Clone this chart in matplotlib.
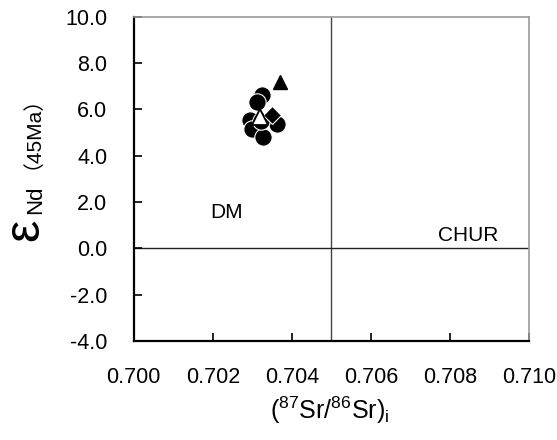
"""Sr-Nd isotope diagram"""
import numpy as np
import matplotlib
matplotlib.use("Agg")
import matplotlib.pyplot as plt

plt.rcParams['font.family'] = ['Liberation Sans', 'Noto Sans CJK SC', 'DejaVu Sans']
plt.rcParams['mathtext.fontset'] = 'custom'
plt.rcParams['mathtext.rm'] = 'Liberation Sans'
plt.rcParams['mathtext.it'] = 'Liberation Sans'

# (87Sr/86Sr)i and eNd(t) for each sample group
circle_sr = [0.70324, 0.70311, 0.70294, 0.70299, 0.70326, 0.70362, 0.70322]
circle_nd = [6.61, 6.32, 5.53, 5.17, 4.80, 5.38, 5.50]
open_tri_sr = [0.70320]
open_tri_nd = [5.67]
diamond_sr = [0.70349]
diamond_nd = [5.74]
solid_tri_sr = [0.70369]
solid_tri_nd = [7.18]

x_ticks = [0.700, 0.702, 0.704, 0.706, 0.708, 0.710]
y_ticks = [-4.0, -2.0, 0.0, 2.0, 4.0, 6.0, 8.0, 10.0]
bulk_earth_sr = 0.705
chur_nd = 0.0

fig = plt.figure(figsize=(5.57, 4.40), dpi=100)
ax = fig.add_axes([0.240, 0.225, 0.710, 0.737])

ax.axvline(bulk_earth_sr, color='#444444', lw=1.0, zorder=1)
ax.axhline(chur_nd, color='#222222', lw=1.0, zorder=1)

ax.plot(circle_sr, circle_nd, 'o', ms=12.5, mfc='black', mec='white', mew=0.8, zorder=3)
ax.plot(open_tri_sr, open_tri_nd, '^', ms=11.5, mfc='white', mec='black', mew=1.3, zorder=4)
ax.plot(diamond_sr, diamond_nd, 'D', ms=9.5, mfc='black', mec='white', mew=0.8, zorder=3)
ax.plot(solid_tri_sr, solid_tri_nd, '^', ms=10, mfc='black', mec='black', zorder=3)

ax.text(0.70235, 1.55, 'DM', fontsize=15, ha='center', va='center')
ax.text(0.70846, 0.55, 'CHUR', fontsize=15, ha='center', va='center')

ax.set_xlim(0.700, 0.710)
ax.set_ylim(-4.0, 10.0)
ax.set_xticks(x_ticks)
ax.set_xticklabels([f'{v:.3f}' for v in x_ticks], fontsize=15.5)
ax.set_yticks(y_ticks)
ax.set_yticklabels([f'{v:.1f}' for v in y_ticks], fontsize=15.5)
ax.tick_params(axis='x', direction='in', length=6, width=1.2, pad=19)
ax.tick_params(axis='y', direction='in', length=6, width=1.2, pad=19)

for side in ('left', 'bottom'):
    ax.spines[side].set_linewidth(1.6)
    ax.spines[side].set_color('black')
for side in ('top', 'right'):
    ax.spines[side].set_linewidth(1.2)
    ax.spines[side].set_color('#999999')

# axis titles
fig.text(330 / 557, 1 - 410 / 440, r'$(^{87}\mathrm{Sr}/^{86}\mathrm{Sr})_\mathrm{i}$',
         fontsize=18, ha='center', va='center')
fig.text(25 / 557, 1 - 230 / 440, 'ε', fontsize=36, rotation=90, ha='center', va='center')
fig.text(36 / 557, 1 - 200 / 440, 'Nd', fontsize=16, rotation=90, ha='center', va='center')
fig.text(22 / 557, 1 - 122 / 440, '（45Ma）', fontsize=15, rotation=90, ha='center', va='center')

fig.savefig('out.png', dpi=100)
